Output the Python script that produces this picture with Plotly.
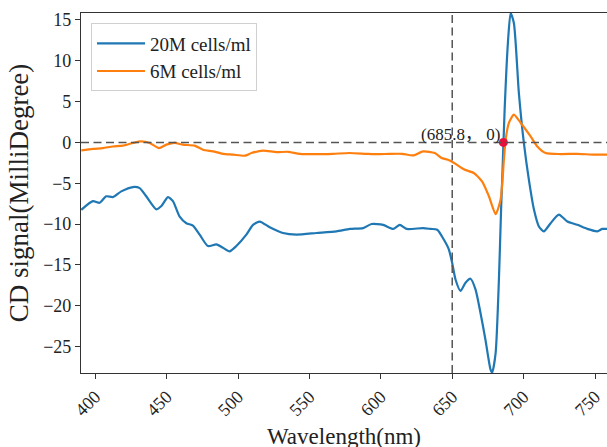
import plotly.graph_objects as go

# 20M cells/ml
wl_20m = [390.2, 398.3, 403.0, 407.7, 412.3, 418.2, 426.4, 431.1, 435.7, 442.8,
          446.3, 450.9, 454.4, 459.1, 463.8, 468.4, 473.1, 478.9, 484.8, 489.4,
          494.1, 498.8, 505.8, 510.5, 515.2, 522.2, 531.5, 540.9, 554.9, 568.9,
          578.3, 587.6, 593.5, 601.6, 608.6, 613.3, 618.0, 629.6, 634.8, 639.5,
          644.1, 647.6, 650.0, 652.3, 655.8, 659.3, 662.8, 666.3, 669.8, 673.3,
          676.8, 678.0, 680.4, 682.7, 684.3, 685.0, 686.7, 689.0, 690.9, 693.2,
          696.7, 700.2, 703.7, 707.2, 710.7, 714.2, 718.9, 724.7, 730.6, 737.6,
          744.6, 751.6, 755.1, 758.8]
cd_20m = [-8.26, -7.2, -7.4, -6.6, -6.7, -6.0, -5.47, -5.6, -6.6, -8.2,
          -7.8, -6.7, -7.2, -9.1, -9.9, -10.2, -11.3, -12.7, -12.5, -12.9,
          -13.35, -12.7, -11.3, -10.1, -9.7, -10.4, -11.1, -11.3, -11.1, -10.9,
          -10.6, -10.5, -10.0, -10.1, -10.6, -10.1, -10.6, -10.5, -10.6, -10.7,
          -11.9, -13.1, -14.8, -16.8, -18.2, -17.2, -16.7, -18.0, -20.9, -24.2,
          -27.8, -28.2, -25.8, -16.8, -7.8, -4.6, 4.0, 12.2, 15.85, 14.6,
          6.0, -0.1, -4.6, -8.2, -10.3, -10.9, -9.9, -8.85, -9.7, -10.1,
          -10.6, -10.9, -10.6, -10.6]

# 6M cells/ml
wl_6m = [390.2, 398.3, 405.3, 412.3, 419.3, 426.4, 432.2, 438.1, 444.6, 449.8,
         455.6, 461.4, 469.6, 475.4, 482.4, 489.4, 496.5, 504.7, 509.4, 517.5,
         526.9, 535.0, 543.2, 555.0, 566.5, 578.0, 589.9, 598.0, 606.3, 615.0,
         622.6, 629.6, 637.8, 642.5, 646.5, 651.1, 658.1, 665.1, 671.0, 675.7,
         680.4, 683.9, 686.2, 687.4, 689.7, 693.2, 697.9, 704.9, 709.6, 715.4,
         725.9, 737.6, 749.3, 758.7]
cd_6m = [-0.98, -0.8, -0.7, -0.5, -0.4, -0.07, 0.12, -0.07, -0.7, -0.28,
         -0.07, -0.28, -0.4, -0.9, -1.1, -1.4, -1.5, -1.63, -1.3, -1.0,
         -1.2, -1.15, -1.4, -1.45, -1.4, -1.3, -1.4, -1.45, -1.4, -1.4,
         -1.6, -1.1, -1.3, -1.9, -2.1, -2.5, -3.3, -3.75, -4.8, -6.6,
         -8.8, -7.0, -2.1, 0.33, 2.4, 3.4, 2.4, 0.73, -0.5, -1.3,
         -1.43, -1.4, -1.5, -1.5]

cross_x = 685.8
cross_y = 0
x_ticks = [400, 450, 500, 550, 600, 650, 700, 750]
y_ticks = [15, 10, 5, 0, -5, -10, -15, -20, -25]

serif = 'Liberation Serif, Times New Roman, serif'

fig = go.Figure()

fig.add_trace(go.Scatter(x=wl_20m, y=cd_20m, mode='lines', name='20M cells/ml',
                         line=dict(color='#1f77b4', width=2.2, shape='spline', smoothing=0.6)))
fig.add_trace(go.Scatter(x=wl_6m, y=cd_6m, mode='lines', name='6M cells/ml',
                         line=dict(color='#ff7f0e', width=2.2, shape='spline', smoothing=0.6)))

# 参考线
fig.add_hline(y=0, line_dash='8px,4.5px', line_color='#555', line_width=1.5)
fig.add_vline(x=650, line_dash='8px,4.5px', line_color='#555', line_width=1.5)

# 交点
fig.add_trace(go.Scatter(x=[cross_x], y=[cross_y], mode='markers', showlegend=False,
                         marker=dict(color='#e6103c', size=9)))
fig.add_annotation(x=cross_x, y=cross_y, text=f'({cross_x}， {cross_y})',
                   xanchor='right', yanchor='bottom', showarrow=False, xshift=-1, yshift=-4,
                   font=dict(family=serif + ', Noto Sans CJK SC', size=17, color='#222'))

# x 轴标题（原图底部被裁掉一部分）
fig.add_annotation(x=0.5, y=0, xref='paper', yref='paper', text='Wavelength(nm)',
                   xanchor='center', yanchor='top', yshift=-49, showarrow=False,
                   font=dict(family=serif, size=23, color='#222'))

fig.update_layout(
    width=607, height=447,
    margin=dict(l=81, r=0, t=13, b=73.5),
    plot_bgcolor='white', paper_bgcolor='white',
    font=dict(family=serif, color='#222'),
    legend=dict(x=0.019, y=0.971, xanchor='left', yanchor='top', itemwidth=48,
                bgcolor='rgba(255,255,255,0.85)', bordercolor='#d0d0d0', borderwidth=1,
                font=dict(size=19, family=serif)),
)

fig.update_xaxes(range=[390, 758.4], tickvals=x_ticks, tickangle=-45, automargin=False,
                 showline=True, linecolor='#333', linewidth=1.2, mirror=True,
                 ticks='outside', ticklen=5, tickcolor='#333', showgrid=False, zeroline=False,
                 tickfont=dict(size=18))
fig.update_yaxes(range=[-28.25, 15.85], tickvals=y_ticks, automargin=False,
                 showline=True, linecolor='#333', linewidth=1.2,
                 ticks='outside', ticklen=5, tickcolor='#333', showgrid=False, zeroline=False,
                 tickfont=dict(size=18),
                 title=dict(text='CD signal(MilliDegree)', font=dict(size=27), standoff=6))

# 去掉页面 body 的默认边距，避免出现滚动条
fig.write_html('out.html', config={'displayModeBar': False},
               post_script="document.body.style.margin='0';document.body.style.overflow='hidden';")
